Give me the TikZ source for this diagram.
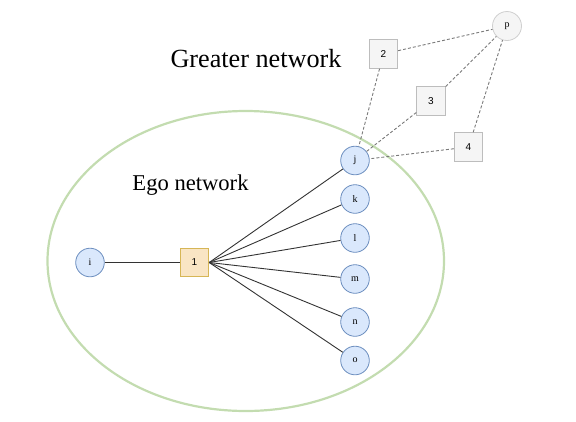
\documentclass[tikz,border=0pt]{standalone}
\usepackage{fontspec}
\setmainfont{Liberation Serif}
\newfontfamily\sansf{Liberation Sans}
\definecolor{pblue}{HTML}{6C8EBF}
\definecolor{pfill}{HTML}{DAE8FC}
\definecolor{efill}{HTML}{F9E5C4}
\definecolor{edraw}{HTML}{D6B656}
\definecolor{gfill}{HTML}{F5F5F5}
\definecolor{gdraw}{HTML}{BDBDBD}
\definecolor{pdraw}{HTML}{CFCFCF}
\definecolor{egogreen}{HTML}{C3DCB0}
\definecolor{solidline}{HTML}{333333}
\definecolor{dashline}{HTML}{7A7A7A}
\begin{document}
\begin{tikzpicture}[x=1pt,y=-1pt,
  person/.style={circle,draw=pblue,fill=pfill,minimum size=28.6pt,inner sep=0pt,line width=0.8pt,font=\fontsize{10}{10}\selectfont},
  outer/.style={circle,draw=pdraw,fill=gfill,minimum size=29pt,inner sep=0pt,line width=0.8pt,font=\fontsize{10}{10}\selectfont},
  egobox/.style={rectangle,draw=edraw,fill=efill,minimum size=28.6pt,inner sep=0pt,line width=0.8pt,font=\sansf\fontsize{10}{10}\selectfont},
  altbox/.style={rectangle,draw=gdraw,fill=gfill,minimum size=28.6pt,inner sep=0pt,line width=0.8pt,font=\sansf\fontsize{10}{10}\selectfont},
  tie/.style={draw=solidline,line width=0.9pt},
  weak/.style={draw=dashline,line width=0.9pt,dash pattern=on 3pt off 2pt},
  title/.style={anchor=base,inner sep=0pt}
]
\useasboundingbox (0,0) rectangle (576,421);
\draw[egogreen,line width=2.2pt] (245.75,261) ellipse [x radius=198.25pt, y radius=150pt];

\node[title,font=\fontsize{26.2}{26.2}\selectfont] (gt) at (256,67) {Greater network};
\node[title,font=\fontsize{22.6}{22.6}\selectfont] (et) at (190.5,190.5) {Ego network};

\node[person] (i) at (90,262.5) {i};
\node[egobox] (n1) at (194.5,262.5) {1};
\node[person] (j) at (355,160.5) {j};
\node[person] (k) at (355,199) {k};
\node[person] (l) at (355,238) {l};
\node[person] (m) at (355,279) {m};
\node[person] (n) at (355,322) {n};
\node[person] (o) at (355,360.5) {o};
\node[outer] (p) at (507,26) {p};
\node[altbox] (n2) at (383.5,54) {2};
\node[altbox] (n3) at (431,101) {3};
\node[altbox] (n4) at (468.5,147) {4};

\draw[tie] (i) -- (n1);
\foreach \t in {j,k,l,m,n,o} \draw[tie] (n1.east) -- (\t);
\foreach \b in {n2,n3,n4} {
  \draw[weak] (\b) -- (p);
  \draw[weak] (\b) -- (j);
}
\end{tikzpicture}
\end{document}
